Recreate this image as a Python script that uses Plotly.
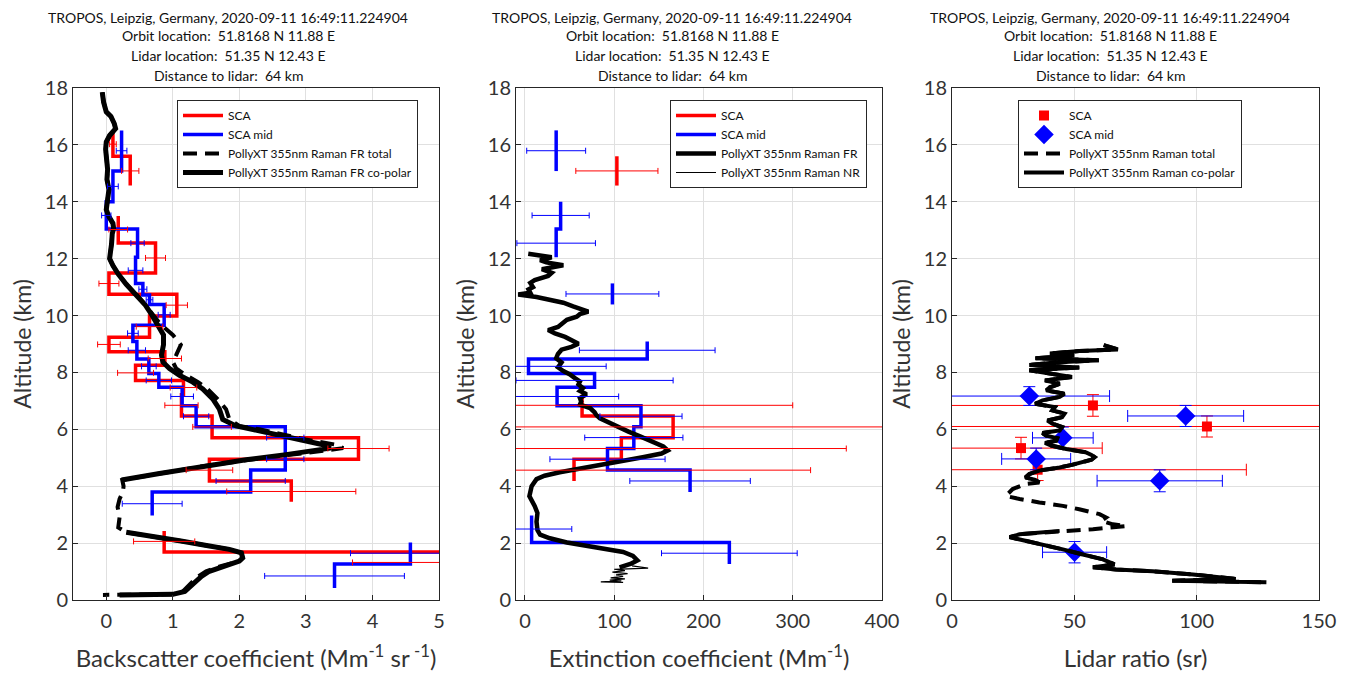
import plotly.graph_objects as go

# ---------------- data ----------------
# Panel 1: backscatter (Mm-1 sr-1)
bsc_sca_top = [16.45, 15.60, 13.50, 12.55, 11.50, 10.75, 9.98, 9.24, 8.73, 8.25, 7.72, 7.22, 6.47, 5.70, 4.95, 4.18, 2.43, 1.69]
bsc_sca_bot = [15.60, 14.57, 12.55, 11.50, 10.75, 9.98, 9.24, 8.73, 8.25, 7.72, 7.22, 6.47, 5.70, 4.95, 4.18, 3.45, 1.69, 0.95]
bsc_sca_val = [0.10, 0.36, 0.18, 0.74, 0.04, 1.06, 0.65, 0.04, 0.88, 0.44, 1.16, 1.13, 1.59, 3.79, 1.55, 2.78, 0.87, 6.50]
bsc_sca_err = [0.05, 0.13, 0.14, 0.15, 0.15, 0.16, 0.20, 0.17, 0.25, 0.27, 0.20, 0.25, 0.29, 0.46, 0.35, 0.97, 0.46, 2.80]

bsc_mid_top = [16.51, 15.08, 14.00, 13.04, 12.05, 11.13, 10.72, 10.39, 9.66, 9.09, 8.47, 7.96, 7.48, 6.83, 6.09, 5.33, 4.57, 3.80, 2.02, 1.27]
bsc_mid_bot = [15.08, 14.00, 13.04, 12.05, 11.13, 10.72, 10.39, 9.66, 9.09, 8.47, 7.96, 7.48, 6.83, 6.09, 5.33, 4.57, 3.80, 2.97, 1.27, 0.42]
bsc_mid_val = [0.23, 0.10, 0.00, 0.47, 0.44, 0.55, 0.65, 0.87, 0.40, 0.46, 0.64, 0.79, 1.14, 1.35, 2.69, 2.69, 2.17, 0.69, 4.57, 3.43]
bsc_mid_err = [0.08, 0.08, 0.07, 0.10, 0.11, 0.06, 0.05, 0.09, 0.08, 0.13, 0.11, 0.19, 0.17, 0.19, 0.28, 0.28, 0.52, 0.45, 0.90, 1.05]

bsc_alt = [17.85, 17.5, 17.16, 17.0, 16.75, 16.57, 16.33, 16.1, 15.85, 15.5, 15.14, 14.79, 14.43, 14.07,
           13.72, 13.48, 13.24, 13.06, 12.88, 12.53, 12.17, 12.0, 11.76, 11.46, 11.1, 10.75, 10.39, 10.04,
           9.68, 9.32, 8.97, 8.61, 8.37, 8.14, 7.9, 7.66, 7.42, 7.07, 6.71, 6.35, 6.12, 6.0, 5.82, 5.64,
           5.46, 5.34, 5.23, 5.11, 4.93, 4.69, 4.45, 4.22, 4.0, 3.8, 3.55, 3.27, 2.91, 2.55, 2.38, 2.26,
           2.08, 1.9, 1.78, 1.66, 1.48, 1.37, 1.19, 1.01, 0.83, 0.65, 0.42, 0.30, 0.20, 0.18]
bsc_copol = [-0.06, -0.04, 0.0, 0.07, 0.12, 0.14, 0.05, 0.0, -0.01, 0.0, 0.02, 0.01, 0.04, 0.02,
             0.0, 0.04, 0.10, 0.11, 0.09, 0.08, 0.05, 0.05, 0.10, 0.18, 0.30, 0.45, 0.58, 0.68,
             0.78, 0.86, 0.86, 0.83, 0.85, 0.95, 1.10, 1.30, 1.45, 1.60, 1.70, 1.75, 1.95, 2.20, 2.55, 2.90,
             3.26, 3.37, 3.10, 2.70, 2.10, 1.40, 0.80, 0.23, None, None, None, None, None, None, 0.30, 0.65,
             1.10, 1.55, 1.85, 2.03, 2.05, 2.00, 1.75, 1.55, 1.43, 1.35, 1.23, 1.18, 1.00, 0.20]
bsc_total = [-0.06, -0.04, 0.0, 0.07, 0.12, 0.14, 0.05, 0.0, -0.01, 0.0, 0.02, 0.01, 0.04, 0.02,
             0.0, 0.04, 0.10, 0.11, 0.09, 0.08, 0.05, 0.05, 0.10, 0.18, 0.30, 0.45, 0.58, 0.70,
             0.82, 1.00, 1.12, 1.05, 1.00, 1.05, 1.20, 1.38, 1.52, 1.67, 1.80, 1.85, 2.00, 2.30, 2.65, 3.00,
             3.45, 3.56, 3.20, 2.75, 2.15, 1.42, 0.82, 0.24, 0.26, 0.25, 0.20, 0.17, 0.20, 0.18, 0.30, 0.65,
             1.10, 1.55, 1.85, 2.03, 2.05, 2.00, 1.72, 1.50, 1.38, 1.30, 1.20, 1.15, 1.00, -0.05]

# Panel 2: extinction (Mm-1)
ext_sca_top = [15.60, 7.22, 6.47, 5.70, 4.95]
ext_sca_bot = [14.57, 6.47, 5.70, 4.95, 4.18]
ext_sca_val = [103, 64, 166, 108, 55]
ext_sca_err = [46, 236, 300, 252, 265]

ext_mid_top = [16.51, 14.00, 13.04, 11.13, 9.09, 8.47, 7.96, 7.48, 6.83, 6.09, 5.33, 4.57, 2.97, 2.02]
ext_mid_bot = [15.08, 13.04, 12.05, 10.39, 8.47, 7.96, 7.48, 6.83, 6.09, 5.33, 4.57, 3.80, 2.02, 1.27]
ext_mid_val = [35, 40, 35, 98, 137, 4, 78, 36, 130, 122, 92.5, 185, 7.5, 229]
ext_mid_err = [33, 32, 44, 52, 76, 87, 88, 69, 46, 55, 64.5, 67.5, 45, 76]

ext_fr_alt = [12.17, 12.05, 11.95, 11.87, 11.77, 11.63, 11.5, 11.39, 11.25, 11.15, 11.0, 10.92, 10.8, 10.74,
              10.65, 10.56, 10.45, 10.32, 10.2, 10.14, 10.05, 9.96, 9.85, 9.73, 9.6, 9.49, 9.37, 9.25,
              9.12, 9.01, 8.9, 8.8, 8.65, 8.5, 8.35, 8.18, 8.05, 7.94, 7.8, 7.68, 7.58, 7.45, 7.35, 7.23,
              7.1, 6.98, 6.87, 6.75, 6.6, 6.5, 6.39, 6.25, 6.1, 5.92, 5.75, 5.56, 5.4, 5.26, 5.15, 5.02,
              4.88, 4.73, 4.6, 4.49, 4.37, 4.25, 4.0, 3.65, 3.3, 3.06, 2.75, 2.46, 2.3, 2.17, 2.02, 1.87,
              1.78, 1.69, 1.55, 1.39, 1.28, 1.15]
ext_fr = [3.7, 30, 17, 24, 43, 19, 30, 26, 11, 6, 9, 4, 6, -7.5,
          13, 28, 43, 54, 65, 71, 61.6, 58, 47, 43, 37, 26, 33.6, 45,
          52, 60, 52, 41, 37, 35, 41, 37, 43, 50, 56, 61.6, 60, 65, 61.6, 69,
          61.6, 63, 61.6, 73, 78, 80, 84, 93, 103, 116, 129, 144, 155, 160, 153, 132,
          106, 80, 58, 39, 22, 13, 7.5, 5, 11, 14, 13, 14, 17, 28, 47, 73,
          91, 110, 121, 126, 119, 106]
ext_nr_alt = [1.20, 1.12, 1.08, 1.03, 0.98, 0.93, 0.88, 0.83, 0.78, 0.74, 0.70, 0.67, 0.64, 0.62]
ext_nr = [120, 138, 100, 112, 98, 115, 102, 110, 96, 112, 95, 108, 85, 110]

# Panel 3: lidar ratio (sr)
lr_sca_alt = [6.84, 6.10, 5.34, 4.58]
lr_sca = [57.6, 104.2, 28.2, 35.0]
lr_sca_xerr = [120, 130, 33.2, 85.3]
lr_sca_yerr = [0.38, 0.37, 0.38, 0.38]

lr_mid_alt = [7.17, 6.47, 5.70, 4.96, 4.19, 1.68]
lr_mid = [31.6, 95.5, 45.3, 34.4, 84.9, 50.1]
lr_mid_xerr = [32.8, 23.7, 12.4, 14.1, 25.6, 13.1]
lr_mid_yerr = [0.33, 0.37, 0.38, 0.38, 0.385, 0.375]

lr_alt = [8.96, 8.81, 8.75, 8.67, 8.6, 8.5, 8.43, 8.35, 8.26, 8.17, 8.08, 7.96, 7.84, 7.72, 7.6, 7.48,
          7.37, 7.25, 7.14, 7.02, 6.9, 6.78, 6.67, 6.55, 6.43, 6.31, 6.2, 6.08, 5.96, 5.87, 5.78, 5.69,
          5.6, 5.52, 5.43, 5.31, 5.19, 5.1, 5.02, 4.93, 4.84, 4.75, 4.66, 4.55, 4.43, 4.31, 4.22, 4.13,
          4.08, 3.9, 3.66, 3.55, 3.43, 3.31, 3.19, 3.02, 2.9, 2.78, 2.66, 2.6, 2.49, 2.45,
          2.43, 2.31, 2.21, 2.13, 1.96, 1.78, 1.6, 1.43, 1.25, 1.15, 1.07, 1.01, 0.9, 0.8, 0.74, 0.68, 0.62]
lr_copol = [62, 67.8, 52, 40, 50, 34, 60, 42, 31.6, 52, 31.6, 41, 49, 38, 44, 40,
            38.5, 46, 44, 37, 34, 42, 41, 46, 45, 39, 41, 45, 44, 37, 38.5, 43,
            42.6, 38, 40.5, 46.7, 54.8, 57, 58.3, 57, 53.5, 49, 44, 35.7, 31.6, 30, 34, 35.7,
            None, None, None, None, None, None, None, None, None, None, None, None, None, None,
            44, 27.6, 23.5, 27.6, 37, 45.3, 53.5, 61.7, 66.4, 57.6, 67, 82, 98.5, 112, 116, 90, 128.5]
lr_total = [62, 67.8, 52, 40, 50, 34, 60, 42, 31.6, 52, 31.6, 41, 49, 38, 44, 40,
            38.5, 46, 44, 37, 34, 42, 41, 46, 45, 39, 41, 45, 44, 37, 38.5, 43,
            42.6, 38, 40.5, 46.7, 54.8, 57, 58.3, 57, 53.5, 49, 44, 35.7, 31.6, 30, 34, 35.7,
            30, 24.8, 22, 27.6, 35.7, 45.3, 52, 60.3, 63, 61, 65.8, 71.2, 57.6, 50.7,
            44, 27.6, 23.5, 27.6, 37, 45.3, 53.5, 61.7, 66.4, 57.6, 67, 82, 98.5, 112, 116, 90, 128.5]

titles = ["TROPOS, Leipzig, Germany, 2020-09-11 16:49:11.224904",
          "Orbit location:\u00a0 51.8168 N 11.88 E",
          "Lidar location:\u00a0 51.35 N 12.43 E",
          "Distance to lidar:\u00a0 64 km"]

# ---------------- helpers ----------------
def stairs(tops, bots, vals):
    xs, ys = [], []
    for i, (t, b, v) in enumerate(zip(tops, bots, vals)):
        if i > 0 and abs(bots[i - 1] - t) > 1e-6:
            xs.append(None); ys.append(None)
        xs += [v, v]; ys += [t, b]
    return xs, ys

def centers(tops, bots):
    return [(t + b) / 2 for t, b in zip(tops, bots)]

RED = "#ff0000"
BLUE = "#0000ff"
FONT = "Lato"
TXT = "#333333"

fig = go.Figure()

def add_stairs(tops, bots, vals, color, name, xa, ya, leg):
    xs, ys = stairs(tops, bots, vals)
    fig.add_trace(go.Scatter(x=xs, y=ys, mode="lines", name=name,
                             line=dict(color=color, width=3.5),
                             xaxis=xa, yaxis=ya, legend=leg, connectgaps=False))

def add_errx(tops, bots, vals, errs, color, xa, ya):
    fig.add_trace(go.Scatter(x=vals, y=centers(tops, bots), mode="markers",
                             marker=dict(size=1, color="rgba(0,0,0,0)"),
                             error_x=dict(type="data", array=errs, color=color, thickness=1, width=3),
                             showlegend=False, hoverinfo="skip", xaxis=xa, yaxis=ya))

# ---- panel 1 ----
add_stairs(bsc_sca_top, bsc_sca_bot, bsc_sca_val, RED, "SCA", "x", "y", "legend")
add_stairs(bsc_mid_top, bsc_mid_bot, bsc_mid_val, BLUE, "SCA mid", "x", "y", "legend")
fig.add_trace(go.Scatter(x=bsc_total, y=bsc_alt, mode="lines", name="PollyXT 355nm Raman FR total",
                         line=dict(color="black", width=4, dash="14px,8px"), xaxis="x", yaxis="y",
                         legend="legend", connectgaps=False))
fig.add_trace(go.Scatter(x=bsc_copol, y=bsc_alt, mode="lines", name="PollyXT 355nm Raman FR co-polar",
                         line=dict(color="black", width=5), xaxis="x", yaxis="y",
                         legend="legend", connectgaps=False))
add_errx(bsc_sca_top, bsc_sca_bot, bsc_sca_val, bsc_sca_err, RED, "x", "y")
add_errx(bsc_mid_top, bsc_mid_bot, bsc_mid_val, bsc_mid_err, BLUE, "x", "y")

# ---- panel 2 ----
add_stairs(ext_sca_top, ext_sca_bot, ext_sca_val, RED, "SCA", "x2", "y2", "legend2")
add_stairs(ext_mid_top, ext_mid_bot, ext_mid_val, BLUE, "SCA mid", "x2", "y2", "legend2")
fig.add_trace(go.Scatter(x=ext_fr, y=ext_fr_alt, mode="lines", name="PollyXT 355nm Raman FR",
                         line=dict(color="black", width=4.5), xaxis="x2", yaxis="y2", legend="legend2"))
fig.add_trace(go.Scatter(x=ext_nr, y=ext_nr_alt, mode="lines", name="PollyXT 355nm Raman NR",
                         line=dict(color="black", width=1.2), xaxis="x2", yaxis="y2", legend="legend2"))
add_errx(ext_sca_top, ext_sca_bot, ext_sca_val, ext_sca_err, RED, "x2", "y2")
add_errx(ext_mid_top, ext_mid_bot, ext_mid_val, ext_mid_err, BLUE, "x2", "y2")

# ---- panel 3 ----
fig.add_trace(go.Scatter(x=lr_sca, y=lr_sca_alt, mode="markers", name="SCA",
                         marker=dict(symbol="square", size=10, color=RED),
                         error_x=dict(type="data", array=lr_sca_xerr, color=RED, thickness=1, width=6),
                         error_y=dict(type="data", array=lr_sca_yerr, color=RED, thickness=1, width=6),
                         xaxis="x3", yaxis="y3", legend="legend3"))
fig.add_trace(go.Scatter(x=lr_mid, y=lr_mid_alt, mode="markers", name="SCA mid",
                         marker=dict(symbol="diamond", size=15, color=BLUE),
                         error_x=dict(type="data", array=lr_mid_xerr, color=BLUE, thickness=1, width=6),
                         error_y=dict(type="data", array=lr_mid_yerr, color=BLUE, thickness=1, width=6),
                         xaxis="x3", yaxis="y3", legend="legend3"))
fig.add_trace(go.Scatter(x=lr_total, y=lr_alt, mode="lines", name="PollyXT 355nm Raman total",
                         line=dict(color="black", width=4, dash="14px,8px"), xaxis="x3", yaxis="y3",
                         legend="legend3", connectgaps=False))
fig.add_trace(go.Scatter(x=lr_copol, y=lr_alt, mode="lines", name="PollyXT 355nm Raman co-polar",
                         line=dict(color="black", width=4), xaxis="x3", yaxis="y3",
                         legend="legend3", connectgaps=False))

# ---------------- layout ----------------
OFF = 8                      # page body margin of the browser
W, H = 1347 - OFF, 677 - OFF  # figure size
def px_x(p): return (p - OFF) / W
def px_y(p): return 1 - (p - OFF) / H

xdoms = [(73, 439), (516, 882), (952, 1319)]
ydom = [px_y(600), px_y(88)]
xranges = [[-0.5, 5], [-10, 400], [0, 150]]
xticks = [[0, 1, 2, 3, 4, 5], [0, 100, 200, 300, 400], [0, 50, 100, 150]]
xtitles = ["Backscatter coefficient (Mm<sup>-1</sup> sr<sup> -1</sup>)",
           "Extinction coefficient (Mm<sup>-1</sup>)",
           "Lidar ratio (sr)"]

axis_common = dict(showline=True, linecolor="#262626", linewidth=1, mirror=True,
                   ticks="inside", ticklen=5, tickcolor="#262626",
                   showgrid=True, gridcolor="#e0e0e0", gridwidth=1, zeroline=False,
                   automargin=False,
                   tickfont=dict(family=FONT, size=20, color=TXT))

layout = dict(width=W, height=H, margin=dict(l=0, r=0, t=0, b=0, autoexpand=False),
              paper_bgcolor="white", plot_bgcolor="white",
              font=dict(family=FONT, color=TXT))
for i in range(3):
    sfx = "" if i == 0 else str(i + 1)
    layout["xaxis" + sfx] = dict(axis_common, domain=[px_x(xdoms[i][0]), px_x(xdoms[i][1])],
                                 range=xranges[i], tickvals=xticks[i], anchor="y" + sfx,
                                 ticklabelstandoff=3,
                                 title=dict(text=xtitles[i], font=dict(family=FONT, size=24, color=TXT),
                                            standoff=19))
    layout["yaxis" + sfx] = dict(axis_common, domain=ydom, range=[0, 18], dtick=2, anchor="x" + sfx,
                                 title=dict(text="Altitude (km)", font=dict(family=FONT, size=23, color=TXT),
                                            standoff=6))

legpos = [177, 670, 1018]
for i in range(3):
    key = "legend" if i == 0 else "legend" + str(i + 1)
    layout[key] = dict(x=px_x(legpos[i]), y=px_y(100), xanchor="left", yanchor="top",
                       bgcolor="white", bordercolor="#262626", borderwidth=1,
                       font=dict(family=FONT, size=12, color="#111111"),
                       itemwidth=40, tracegroupgap=0)

fig.update_layout(**layout)

title_cx = [228, 672, 1110]
title_cy = [17, 36, 55.5, 75]
for cx in title_cx:
    for t, cy in zip(titles, title_cy):
        fig.add_annotation(x=px_x(cx), y=px_y(cy), xref="paper", yref="paper", text=t,
                           showarrow=False, xanchor="center", yanchor="middle",
                           font=dict(family=FONT, size=14, color="#111111"))

fig.write_html("out.html")
